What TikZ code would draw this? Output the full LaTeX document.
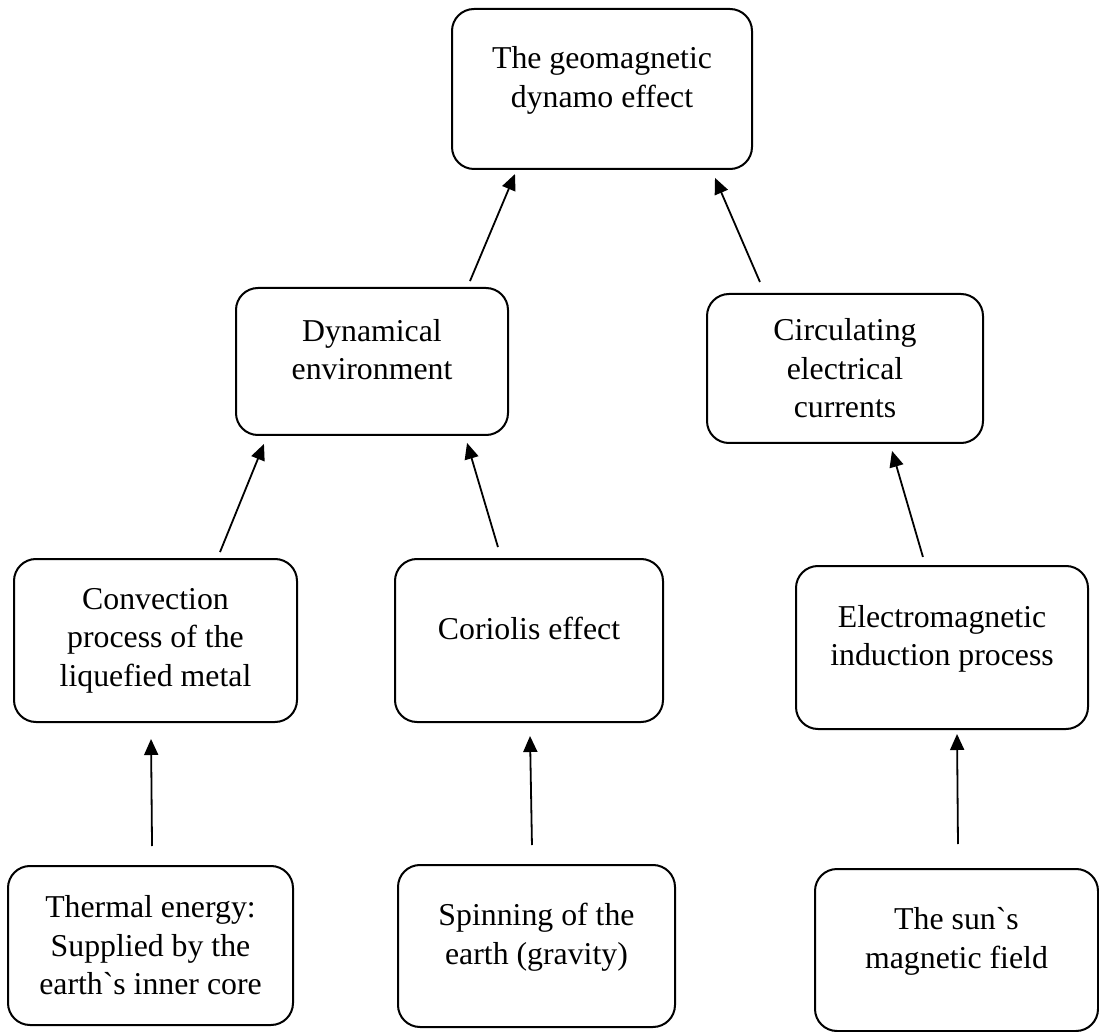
\documentclass[tikz,border=0pt]{standalone}
\usepackage{fontspec}
\setmainfont{Liberation Serif}
\usetikzlibrary{arrows.meta}

\begin{document}
\begin{tikzpicture}[
    x=0.5pt, y=-0.5pt,
    box/.style={rectangle, draw=black, line width=1pt, rounded corners=11pt,
                align=center, font=\fontsize{15.9}{19.3}\selectfont},
    lift/.style={execute at end node={\rule[-12pt]{0pt}{0pt}}},
    arrow/.style={->, line width=0.9pt, >={Triangle[length=8pt, width=7pt]}}
  ]
    \useasboundingbox (0,0) rectangle (1099,1032);

    \node[box, lift, minimum width=150pt, minimum height=80pt]   (geo)   at (602,89)      {The geomagnetic\\dynamo effect};
    \node[box, lift, minimum width=136pt, minimum height=73.5pt] (dyn)   at (372,361.5)   {Dynamical\\environment};
    \node[box, minimum width=138pt, minimum height=74.5pt]       (circ)  at (845,368.5)   {Circulating\\electrical\\currents};
    \node[box, minimum width=141.5pt, minimum height=81.5pt]     (conv)  at (155.5,640.5) {Convection\\process of the\\liquefied metal};
    \node[box, lift, minimum width=134pt, minimum height=81.5pt] (cor)   at (529,640.5)   {Coriolis effect};
    \node[box, lift, minimum width=146pt, minimum height=81.5pt] (em)    at (942,647.5)   {Electromagnetic\\induction process};
    \node[box, minimum width=142.5pt, minimum height=79.5pt]     (therm) at (150.5,945.5) {Thermal energy:\\Supplied by the\\earth\textasciigrave s inner core};
    \node[box, lift, minimum width=138.5pt, minimum height=81pt] (spin)  at (536.5,946)   {Spinning of the\\earth (gravity)};
    \node[box, lift, minimum width=141.5pt, minimum height=81pt] (sun)   at (956.5,950)   {The sun\textasciigrave s\\magnetic field};

    \draw[arrow, shorten <=3.2pt, shorten >=2.2pt] ([xshift=47.75pt]dyn.north)  -- ([xshift=-42.65pt]geo.south);
    \draw[arrow, shorten <=6pt,   shorten >=4.3pt] ([xshift=-40.15pt]circ.north) -- ([xshift=54.8pt]geo.south);
    \draw[arrow, shorten <=3.2pt, shorten >=4.3pt] ([xshift=31.05pt]conv.north) -- ([xshift=-52.4pt]dyn.south);
    \draw[arrow, shorten <=5.7pt, shorten >=3.6pt] ([xshift=-13.9pt]cor.north)  -- ([xshift=46.5pt]dyn.south);
    \draw[arrow, shorten <=4.2pt, shorten >=3.6pt] ([xshift=-8.35pt]em.north)   -- ([xshift=22.5pt]circ.south);
    \draw[arrow, shorten <=9.5pt, shorten >=8pt]   ([xshift=0.85pt]therm.north) -- ([xshift=-2.3pt]conv.south);
    \draw[arrow, shorten <=9.5pt, shorten >=6.5pt] ([xshift=-2.1pt]spin.north)  -- ([xshift=0.4pt]cor.south);
    \draw[arrow, shorten <=12pt,  shorten >=2pt]   ([xshift=0.85pt]sun.north)   -- ([xshift=7.5pt]em.south);
\end{tikzpicture}
\end{document}
